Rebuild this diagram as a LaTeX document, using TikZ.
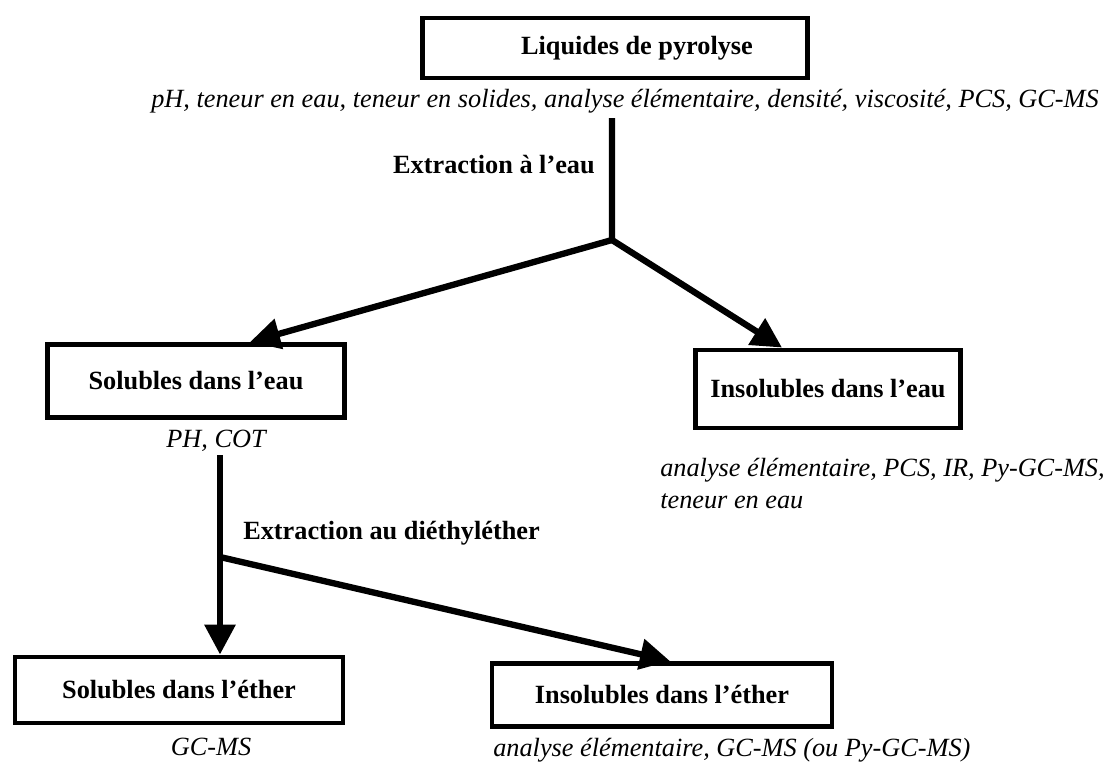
\documentclass[tikz,border=0pt]{standalone}
\usepackage{fontspec}
\setmainfont{Liberation Serif}
\usetikzlibrary{arrows.meta, positioning, calc}
\newcommand{\taillefig}{\fontsize{18.7}{22.5}\selectfont}
\tikzstyle{etape}     = [rectangle, draw=black, line width=3.5pt, font=\taillefig\bfseries,
                          text centered, inner sep=0pt]
\tikzstyle{operation} = [font=\taillefig\bfseries, inner sep=0pt]
\tikzstyle{mesure}    = [font=\taillefig\itshape, inner sep=0pt]
\tikzstyle{trait}     = [line width=4.5pt, line join=miter]
\tikzstyle{arrow}     = [trait, -{Triangle[length=0.75cm, width=0.75cm]}]

\begin{document}
\begin{tikzpicture}
  \useasboundingbox (0,0) rectangle (27.9,-19.3);
  % premiere etape
  \node (liquides) [etape, minimum width=9.625cm, minimum height=1.5cm] at (15.375,-1.2) {\hspace*{1.1cm}Liquides de pyrolyse};
  \node (mesLiq)   [mesure, below=0.2cm of liquides, xshift=0.25cm] {pH, teneur en eau, teneur en solides, analyse élémentaire, densité, viscosité, PCS, GC-MS};
  \coordinate (haut1) at (15.3,-2.95);
  \coordinate (b1)    at (15.3,-6.0);
  \node (extEau)   [operation, anchor=east] at (14.875,-4.125) {Extraction à l’eau};

  \node (solEau) [etape, minimum width=7.425cm, minimum height=1.825cm] at (4.9,-9.525) {Solubles dans l’eau};
  \node (insEau) [etape, minimum width=6.625cm, minimum height=1.95cm] at (20.7,-9.725) {Insolubles dans l’eau};
  \node (mesSolEau) [mesure, below=0.25cm of solEau, xshift=0.5cm] {PH, COT};
  \node (mesInsEau) [mesure, align=left, anchor=north west] at (16.5,-11.45) {analyse élémentaire, PCS, IR, Py-GC-MS,\\ teneur en eau};

  % deuxieme extraction
  \coordinate (haut2) at (5.5,-11.375);
  \coordinate (b2)    at (5.5,-13.925);
  \node (extEther) [operation, anchor=west] at (6.075,-13.325) {Extraction au diéthyléther};

  \node (solEther) [etape, minimum width=8.2cm, minimum height=1.65cm] at (4.475,-17.25) {Solubles dans l’éther};
  \node (insEther) [etape, minimum width=8.5cm, minimum height=1.575cm] at (16.55,-17.375) {Insolubles dans l’éther};
  \node (mesSolEther) [mesure, below=0.3cm of solEther, xshift=0.8cm] {GC-MS};
  \node (mesInsEther) [mesure, anchor=west] at (12.325,-18.75) {analyse élémentaire, GC-MS (ou Py-GC-MS)};

  \draw[arrow] (haut1) -- (b1) -- ([xshift=1.35cm]solEau.north);
  \draw[arrow] (b1) -- ([xshift=-1.15cm]insEau.north);
  \draw[arrow] (haut2) -- (haut2 |- solEther.north);
  \draw[arrow] (b2) -- ([xshift=0.2cm]insEther.north);
\end{tikzpicture}
\end{document}
